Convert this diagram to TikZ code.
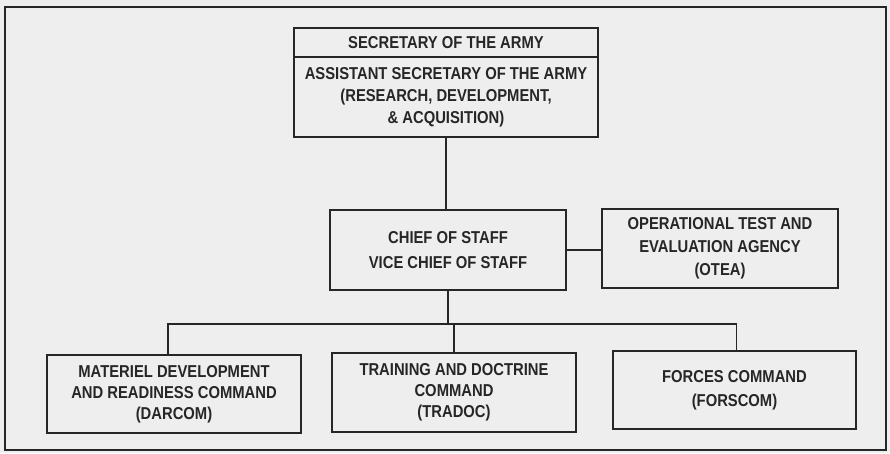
\documentclass[tikz,border=0pt]{standalone}
\usepackage{fontspec}
\setmainfont{Liberation Sans}[FakeStretch=0.86]
\definecolor{ink}{HTML}{262626}
\definecolor{paper}{HTML}{EEEEEE}
\tikzset{
  unit/.style={draw=ink, line width=1.4pt, inner sep=0pt, align=center,
    text=ink, font=\fontsize{17.2}{22}\selectfont\bfseries},
  link/.style={draw=ink, line width=1.4pt}
}
\begin{document}
\begin{tikzpicture}[x=1pt, y=-1pt]
\fill[paper] (0,0) rectangle (890,453);
\useasboundingbox (0,0) rectangle (890,453);
\draw[ink, line width=1.4pt] (5,7) rectangle (886,450);
% top of the chain
\node[unit, minimum width=304pt, minimum height=29pt] (sec) at (446,42.5) {SECRETARY OF THE ARMY};
\node[unit, minimum width=304pt, minimum height=80pt] (asa) at (446,97)
  {ASSISTANT SECRETARY OF THE ARMY\\(RESEARCH, DEVELOPMENT,\\\& ACQUISITION)};
\node[unit, minimum width=236pt, minimum height=80pt, font=\fontsize{17.2}{24.5}\selectfont\bfseries] (chief) at (448,250)
  {CHIEF OF STAFF\\VICE CHIEF OF STAFF};
\node[unit, minimum width=236pt, minimum height=79pt, font=\fontsize{17.2}{23}\selectfont\bfseries] (otea) at (720,248.5)
  {OPERATIONAL TEST AND\\EVALUATION AGENCY\\(OTEA)};
% commands
\node[unit, minimum width=254pt, minimum height=78pt, font=\fontsize{17.2}{21}\selectfont\bfseries] (darcom) at (174,394)
  {MATERIEL DEVELOPMENT\\AND READINESS COMMAND\\(DARCOM)};
\node[unit, minimum width=244pt, minimum height=79pt, font=\fontsize{17.2}{21}\selectfont\bfseries] (tradoc) at (454,392.5)
  {TRAINING AND DOCTRINE\\COMMAND\\(TRADOC)};
\node[unit, minimum width=243pt, minimum height=78pt, font=\fontsize{17.2}{24}\selectfont\bfseries] (forscom) at (734.5,390)
  {FORCES COMMAND\\(FORSCOM)};
\coordinate (bus) at (chief.south |- 0,324);
\begin{scope}[link]
\draw (asa.south) -- (asa.south |- chief.north);
\draw (chief.east) -- (chief.east -| otea.west);
\draw (chief.south) -- (bus);
\draw (bus) -| ([xshift=-6pt]darcom.north);
\draw (bus) -| ([xshift=2pt]forscom.north);
\draw (bus) -| (tradoc.north);
\end{scope}
\end{tikzpicture}
\end{document}
